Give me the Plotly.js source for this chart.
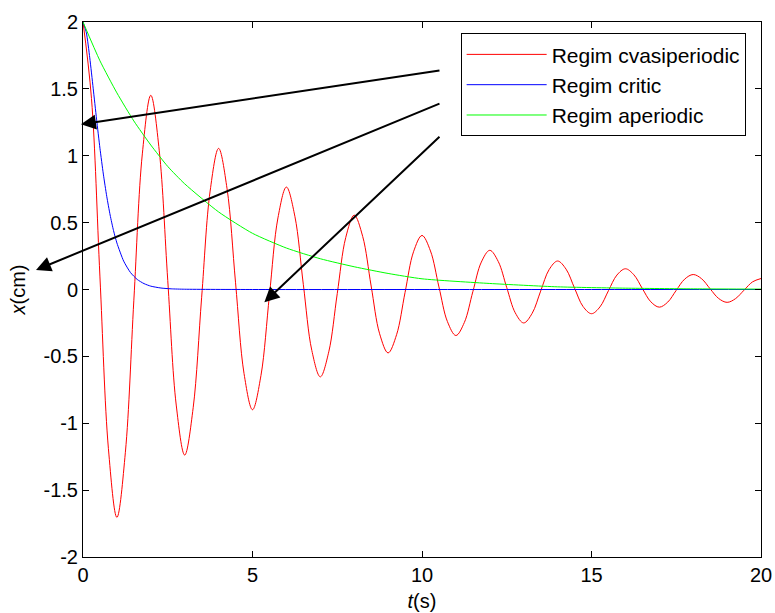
<!DOCTYPE html>
<html>
<head>
<meta charset="utf-8">
<script src="https://cdn.plot.ly/plotly-3.0.1.min.js"></script>
<style>
  html, body { margin: 0; padding: 0; background: #fff; }
  #plot { width: 775px; height: 613px; }
</style>
</head>
<body>
<div id="plot"></div>
<script>
// Time samples (s) and displacement x (cm) for the three damping regimes
const tCvasi = [0,0.25,0.5,0.75,1,1.25,1.5,1.75,2,2.25,2.5,2.75,3,3.25,3.5,3.75,4,4.25,4.5,4.75,
  5,5.25,5.5,5.75,6,6.25,6.5,6.75,7,7.25,7.5,7.75,8,8.25,8.5,8.75,9,9.25,9.5,9.75,
  10,10.25,10.5,10.75,11,11.25,11.5,11.75,12,12.25,12.5,12.75,13,13.25,13.5,13.75,14,14.25,14.5,14.75,
  15,15.25,15.5,15.75,16,16.25,16.5,16.75,17,17.25,17.5,17.75,18,18.25,18.5,18.75,19,19.25,19.5,19.75,20];
const xCvasi = [2.000,1.428,0.094,-1.190,-1.704,-1.217,-0.080,1.014,1.452,1.037,0.068,-0.864,-1.238,-0.884,-0.058,0.736,
  1.055,0.753,0.050,-0.628,-0.899,-0.642,-0.042,0.535,0.766,0.547,0.036,-0.456,-0.653,-0.466,-0.031,0.388,
  0.556,0.397,0.026,-0.331,-0.474,-0.338,-0.022,0.282,0.404,0.288,0.019,-0.240,-0.344,-0.246,-0.016,0.205,
  0.293,0.209,0.014,-0.174,-0.250,-0.178,-0.012,0.149,0.213,0.152,0.010,-0.127,-0.181,-0.130,-0.009,0.108,
  0.155,0.110,0.007,-0.092,-0.132,-0.094,-0.006,0.078,0.112,0.080,0.005,-0.067,-0.096,-0.068,-0.005,0.057,0.082];

const tCritic = [0,0.1,0.2,0.3,0.4,0.5,0.6,0.7,0.8,0.9,1.0,1.2,1.4,1.6,1.8,2.0,2.3,2.6,3.0,5,10,15,20];
const xCritic = [2.000,1.918,1.732,1.505,1.274,1.056,0.863,0.697,0.557,0.441,0.348,0.212,0.127,0.075,0.044,0.025,0.011,0.005,0.002,0,0,0,0];

const tAperiodic = [0,0.5,1,1.5,2,2.5,3,4,5,6,7,8,9,10,12,14,16,18,20];
const xAperiodic = [2.00,1.71,1.47,1.26,1.08,0.92,0.79,0.58,0.42,0.31,0.23,0.17,0.12,0.08,0.045,0.02,0.01,0.005,0.003];

const seriesNames = ['Regim cvasiperiodic', 'Regim critic', 'Regim aperiodic'];

// Axis ticks
const tTicks = [0, 5, 10, 15, 20];
const xTicks = [-2, -1.5, -1, -0.5, 0, 0.5, 1, 1.5, 2];
const xTickText = ['-2', '-1.5', '-1', '-0.5', '0', '0.5', '1', '1.5', '2'];

// Pointer arrows from the legend area towards the curves (tail -> head, data units)
const arrowTailT = [10.56, 10.56, 10.56];
const arrowTailX = [1.639, 1.394, 1.153];
const arrowHeadT = [-0.06, -1.386, 5.35];
const arrowHeadX = [1.235, 0.146, -0.096];

const FONT = 'Liberation Sans, Arial, Helvetica, sans-serif';

const traces = [
  { x: tCvasi, y: xCvasi, name: seriesNames[0], mode: 'lines',
    line: { color: '#ff0000', width: 1, shape: 'spline', smoothing: 1 } },
  { x: tCritic, y: xCritic, name: seriesNames[1], mode: 'lines',
    line: { color: '#0000ff', width: 1, shape: 'spline', smoothing: 0.6 } },
  { x: tAperiodic, y: xAperiodic, name: seriesNames[2], mode: 'lines',
    line: { color: '#00ff00', width: 1, shape: 'spline', smoothing: 0.6 } }
];

const annotations = arrowTailT.map((_, i) => ({
  x: arrowHeadT[i], y: arrowHeadX[i],
  ax: arrowTailT[i], ay: arrowTailX[i],
  xref: 'x', yref: 'y', axref: 'x', ayref: 'y',
  text: '', showarrow: true,
  arrowhead: 2, arrowsize: 1.5, arrowwidth: 2, arrowcolor: '#000000',
  standoff: 0, startstandoff: 0
}));

const axisCommon = {
  showline: true, linecolor: '#000', linewidth: 1, mirror: 'ticks',
  ticks: 'inside', ticklen: 6, tickwidth: 1, tickcolor: '#000',
  showgrid: false, zeroline: false, fixedrange: true,
  tickfont: { family: FONT, size: 20, color: '#000' }
};

const layout = {
  width: 775, height: 613,
  margin: { l: 83, r: 14, t: 22, b: 56 },
  paper_bgcolor: '#fff', plot_bgcolor: '#fff',
  font: { family: FONT, size: 20, color: '#000' },
  showlegend: true,
  legend: {
    x: 0.557, y: 0.979, xanchor: 'left', yanchor: 'top',
    bgcolor: '#fff', bordercolor: '#000', borderwidth: 1,
    font: { family: FONT, size: 21, color: '#000' },
    itemwidth: 80, tracegroupgap: 0
  },
  xaxis: Object.assign({}, axisCommon, {
    range: [0, 20], tickvals: tTicks, ticktext: tTicks.map(String),
    title: { text: '<i>t</i>(s)', font: { family: FONT, size: 20, color: '#000' }, standoff: 8 }
  }),
  yaxis: Object.assign({}, axisCommon, {
    range: [-2, 2], tickvals: xTicks, ticktext: xTickText,
    title: { text: '<i>x</i>(cm)', font: { family: FONT, size: 20, color: '#000' }, standoff: 12 }
  }),
  annotations: annotations
};

Plotly.newPlot('plot', traces, layout, { displayModeBar: false, staticPlot: true });
</script>
</body>
</html>
